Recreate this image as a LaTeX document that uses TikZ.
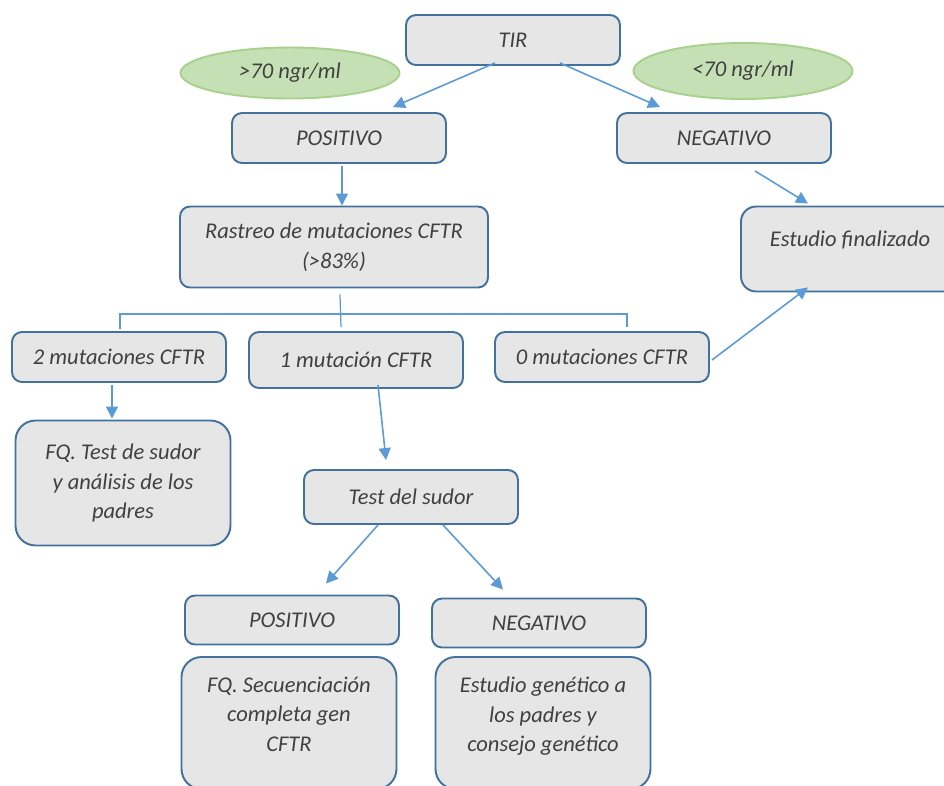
\documentclass[tikz,border=0pt]{standalone}
\usepackage{fontspec}
\setmainfont{Carlito}
\usetikzlibrary{arrows.meta, positioning, calc, shapes.geometric}

\definecolor{boxfill}{HTML}{E7E6E6}
\definecolor{boxline}{HTML}{41719C}
\definecolor{linkblue}{HTML}{5B9BD5}
\definecolor{ovalfill}{HTML}{C5E0B4}
\definecolor{ovalline}{HTML}{A9D18E}
\definecolor{txtgrey}{HTML}{404040}

\tikzset{
  caja/.style={draw=boxline, fill=boxfill, line width=1.1pt, rounded corners=0.2cm,
    minimum width=4.28cm, minimum height=1cm, align=center, text=txtgrey,
    font=\fontsize{12.8}{17}\selectfont\itshape},
  cajagrande/.style={caja, rounded corners=0.4cm, minimum width=4.3cm},
  ovalo/.style={ellipse, draw=ovalline, fill=ovalfill, line width=1.1pt,
    minimum width=4.38cm, minimum height=1.02cm, text=txtgrey,
    font=\fontsize{12.8}{17}\selectfont\itshape},
  flecha/.style={draw=linkblue, line width=0.9pt, -{Triangle[length=0.24cm,width=0.24cm]}},
  rama/.style={draw=linkblue, line width=0.7pt},
}

\begin{document}
\begin{tikzpicture}[x=0.02cm, y=-0.02cm]
  \clip (0,0) rectangle (944,785);

  % cribado
  \node[caja] (tir) at (513,40) {TIR};
  \node[ovalo] (mayor) at (290,73) {>70 ngr/ml};
  \node[ovalo, minimum height=1.12cm] (menor) at (743,71) {<70 ngr/ml};
  \node[caja] (pos) at (339,138) {POSITIVO};
  \node[caja] (neg) at (724,138) {NEGATIVO};
  \node[caja, minimum width=6.16cm, minimum height=1.62cm] (rastreo) at (334,247)
    {Rastreo de mutaciones CFTR\\(>83\%)};
  \node[caja, rounded corners=0.3cm, minimum width=4.36cm, minimum height=1.7cm, text depth=12pt]
    (fin) at (850,249) {Estudio finalizado};

  % resultados del rastreo
  \node[caja] (m2) at (119,357) {2 mutaciones CFTR};
  \node[caja, minimum height=1.12cm] (m1) at (356,360) {1 mutación CFTR};
  \node[caja] (m0) at (602,357) {0 mutaciones CFTR};
  \node[cajagrande, minimum height=2.5cm] (fqs) at (123,483)
    {FQ. Test de sudor\\y análisis de los\\padres};
  \node[caja, minimum height=1.08cm] (sudor) at (411,497) {Test del sudor};
  \node[caja, minimum height=0.98cm] (pos2) at (292,620) {POSITIVO};
  \node[caja, minimum height=0.98cm] (neg2) at (539,623) {NEGATIVO};
  \node[cajagrande, minimum height=2.64cm, text depth=10pt] (secu) at (289,723)
    {FQ. Secuenciación\\completa gen\\CFTR};
  \node[cajagrande, minimum height=2.64cm, text depth=10pt] (gen) at (543,723)
    {Estudio genético a\\los padres y\\consejo genético};

  % flechas
  \draw[flecha] ($(tir.south)+(-18,-3)$) -- ($(pos.north)+(54,-5)$);
  \draw[flecha] ($(tir.south)+(47,-3)$) -- ($(neg.north)+(-64,-5)$);
  \draw[flecha] ($(pos.south)+(3,2)$) -- ($(rastreo.north)+(8,0)$);
  \draw[flecha] ($(neg.south)+(31,7)$) -- ($(fin.north)+(-42,-2)$);
  \draw[flecha] ($(m0.east)+(2,3)$) -- ($(fin.south)+(-42,-5)$);
  \draw[flecha] ($(m2.south)+(-7,2)$) -- ($(fqs.north)+(-11,-1)$);
  \draw[flecha] ($(m1.south)+(22,-4)$) -- ($(sudor.north)+(-25,-9)$);
  \draw[flecha] ($(sudor.south)+(-33,0)$) -- ($(pos2.north)+(34,-11)$);
  \draw[flecha] ($(sudor.south)+(32,0)$) -- ($(neg2.north)+(-36,-8)$);

  % ramas del rastreo
  \draw[rama] ($(rastreo.south)+(6,6)$) -- ($(m1.north)+(-15,-4)$);
  \draw[rama] ($(m2.north)+(1,-2)$) -- ++(0,-15) -| ($(m0.north)+(25,-4)$);
\end{tikzpicture}
\end{document}
